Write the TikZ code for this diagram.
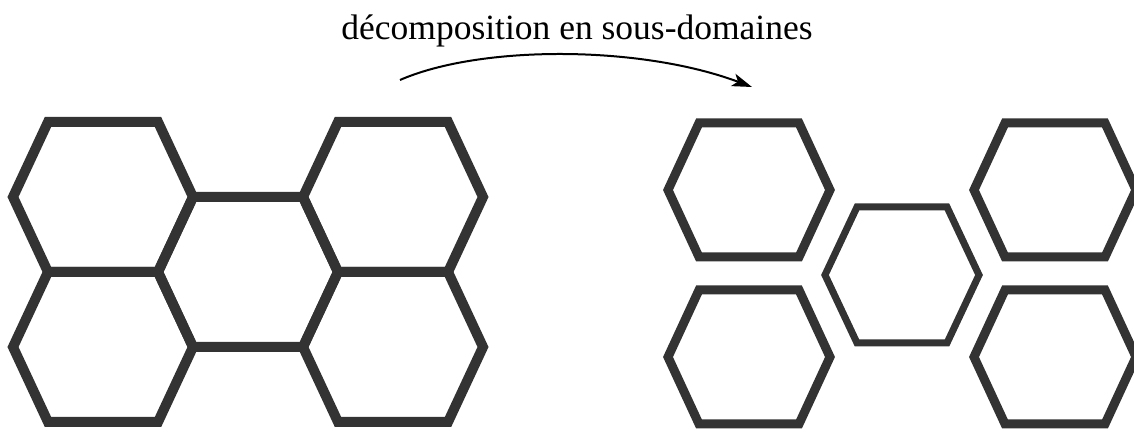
\documentclass[tikz,border=0pt]{standalone}
\usepackage{fontspec}
\setmainfont{Liberation Serif}
\usetikzlibrary{arrows.meta}
\begin{document}
\begin{tikzpicture}[x=0.02cm,y=-0.02cm,
  hexa/.style={draw=black!80,line width=10*0.02cm,line join=miter},
  hexb/.style={draw=black!80,line width=9*0.02cm,line join=miter}]
\useasboundingbox (0,0) rectangle (1134,432);
\node(T) at (577,40) [anchor=base,font=\fontsize{20.2}{24}\selectfont] {décomposition en sous-domaines};
\coordinate (S) at (400,80);
\coordinate (E) at (752,87);
\draw[line width=0.04cm,-{Stealth[length=0.4cm,width=0.26cm,inset=0.1cm]}]
  (S) .. controls (480,45) and (640,45) .. (E);
\foreach \c in {(103,197),(103,347),(248,272),(393,197),(393,347)}
  \draw[hexa,shift={\c}] (-90,0) -- (-55,-75) -- (55,-75) -- (90,0) -- (55,75) -- (-55,75) -- cycle;
\foreach \c in {(749,190),(749,357),(1055,190),(1055,357)}
  \draw[hexb,shift={\c}] (-81,0) -- (-50,-67) -- (50,-67) -- (81,0) -- (50,67) -- (-50,67) -- cycle;
\draw[hexb,line width=7*0.02cm,shift={(902,275)}] (-77,0) -- (-45,-68) -- (45,-68) -- (77,0) -- (45,68) -- (-45,68) -- cycle;
\end{tikzpicture}
\end{document}
